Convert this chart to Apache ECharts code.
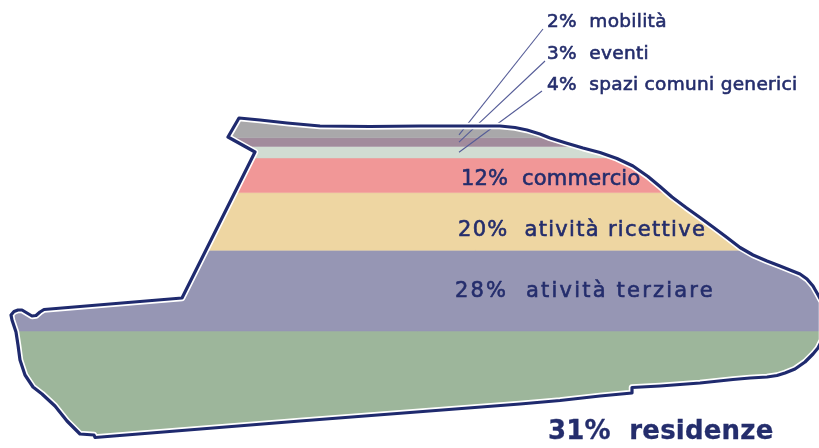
<!DOCTYPE html>
<html><head><meta charset="utf-8">
<script src="https://cdn.jsdelivr.net/npm/echarts@6/dist/echarts.min.js"></script>
<style>html,body{margin:0;padding:0;background:#fff;overflow:hidden}#c{width:819px;height:448px}</style>
</head><body><div id="c"></div>
<script>
// ---- data (bottom to top) ----
const categories = ['residenze', 'atività terziare', 'atività ricettive', 'commercio', 'spazi comuni generici', 'eventi', 'mobilità'];
const shares = [31, 28, 20, 12, 4, 3, 2];

// ---- styles ----
const bandColors = ['#9db69b', '#9696b4', '#eed6a2', '#f19797', '#d1dcd2', '#a28b9c', '#a9a8aa'];
const navy = '#242d6c';
// label anchors: [x, y, fontSize, bold, letterSpacing]
const labelPos = [[548, 432, 26, true, 0.2], [455, 292, 21, false, 2.2], [458, 231, 21, false, 1.3], [461, 180, 21, false, 0],
                  [547, 85, 18.5, false, 0.3], [547, 54, 18.5, false, 0.3], [547, 22, 18.5, false, 0.3]];
const leaderStart = { 4: [542, 91], 5: [545, 61], 6: [543, 29] };
const leaderEndX = 459;

// building silhouette (decorative frame, pixels)
const SIL = [
  [239,118],[260,120],[287,123],[320,126],[370,126.5],[420,126],[470,126],[500,126],[515,127.5],[527,130],
  [540,134],[550,138],[566,143],[583,148],[600,152.5],[617,158.5],[633,166],[648,176.5],[660,186.5],[672,197],
  [686,207.5],[700,217.5],[713,227],[727,237.5],[740,247.5],[753,255],[767,261],[780,266],[790,270],[800,274],
  [807,279],[813,286],[817,293],[822,302],[822,340],[818,348],[813,354],[805,362],[795,369],[785,373],
  [777,375.5],[767,377],[750,378],[733,379.5],[700,383],[660,386],[632,387.5],[632,393],[600,396],
  [560,400.5],[520,404],[300,421],[95,437.5],[94,435],[80,434],[67,421],[55,406],[42,394],[33,387],
  [25,375],[20,360],[18,345],[16,332],[12,320],[11,315],[14,311.5],[18,310],[22,310],[27,313],
  [32,316],[36,315.5],[40,312],[44,309.5],[182,298],[255,152],[228,137]
];

// per-label tracking (canvas letterSpacing) keyed by label text
const labelTexts = categories.map((n, i) => shares[i] + '%  ' + n);
const spacingByText = {};
labelTexts.forEach((t, i) => { spacingByText[t] = labelPos[i][4]; });
(function () {
  const P = CanvasRenderingContext2D.prototype;
  ['fillText', 'strokeText'].forEach(fn => {
    const orig = P[fn];
    P[fn] = function (t, x, y, m) {
      const ls = spacingByText[t];
      if (ls && 'letterSpacing' in this) {
        const prev = this.letterSpacing;
        this.letterSpacing = ls + 'px';
        const r = m === undefined ? orig.call(this, t, x, y) : orig.call(this, t, x, y, m);
        this.letterSpacing = prev;
        return r;
      }
      return m === undefined ? orig.call(this, t, x, y) : orig.call(this, t, x, y, m);
    };
  });
})();

function clip(poly, inside, inter) {
  const out = [];
  for (let i = 0; i < poly.length; i++) {
    const a = poly[i], b = poly[(i + 1) % poly.length];
    const ia = inside(a), ib = inside(b);
    if (ia) { out.push(a); if (!ib) out.push(inter(a, b)); }
    else if (ib) out.push(inter(a, b));
  }
  return out;
}
function ix(a, b, y) { const t = (y - a[1]) / (b[1] - a[1]); return [a[0] + t * (b[0] - a[0]), y]; }
function slab(poly, yT, yB) {
  let p = clip(poly, q => q[1] >= yT, (a, b) => ix(a, b, yT));
  p = clip(p, q => q[1] <= yB, (a, b) => ix(a, b, yB));
  return p;
}

// cumulative ranges
const ranges = [];
let acc = 0;
shares.forEach(v => { ranges.push([acc, acc + v]); acc += v; });

const chart = echarts.init(document.getElementById('c'), null, { renderer: 'canvas' });

const texts = labelTexts.map((txt, i) => {
  const p = labelPos[i];
  return {
    type: 'text', z: 30,
    style: {
      text: txt,
      x: p[0], y: p[1],
      font: (p[3] ? 'bold ' : '') + p[2] + 'px "DejaVu Sans"',
      fill: navy, stroke: navy, lineWidth: p[3] ? 0.3 : 0.6,
      align: 'left', verticalAlign: 'middle', textAlign: 'left', textVerticalAlign: 'middle'
    }
  };
});

chart.setOption({
  animation: false,
  grid: { left: 0, right: 0, top: 132, bottom: 27.5 },
  xAxis: { type: 'value', min: 0, max: 1, show: false },
  yAxis: { type: 'value', min: 0, max: 100, show: false },
  series: [{
    type: 'custom',
    clip: false,
    z: 2,
    encode: { y: [0, 1] },
    data: ranges,
    renderItem: function (params, api) {
      const i = params.dataIndex;
      const lo = api.value(0), hi = api.value(1);
      let yTop = api.coord([0, hi])[1];
      let yBot = api.coord([0, lo])[1];
      if (i === 0) yBot = 2000;
      if (i === shares.length - 1) yTop = -2000;
      const children = [{
        type: 'polygon',
        shape: { points: slab(SIL, yTop, yBot) },
        style: { fill: bandColors[i], stroke: bandColors[i], lineWidth: 0.5 }
      }];
      if (leaderStart[i]) {
        const yMid = api.coord([0, (lo + hi) / 2])[1];
        children.push({
          type: 'line', z2: 50,
          shape: { x1: leaderStart[i][0], y1: leaderStart[i][1], x2: leaderEndX, y2: yMid },
          style: { stroke: '#555c97', lineWidth: 1.1 }
        });
      }
      return { type: 'group', children: children };
    }
  }],
  graphic: [
    { type: 'polygon', z: 10, shape: { points: SIL }, style: { fill: null, stroke: '#ffffff', lineWidth: 6.5, lineJoin: 'round' }, silent: true },
    { type: 'polygon', z: 11, shape: { points: SIL }, style: { fill: null, stroke: '#1f2a6e', lineWidth: 3.2, lineJoin: 'round' }, silent: true }
  ].concat(texts)
});
</script>
</body></html>
